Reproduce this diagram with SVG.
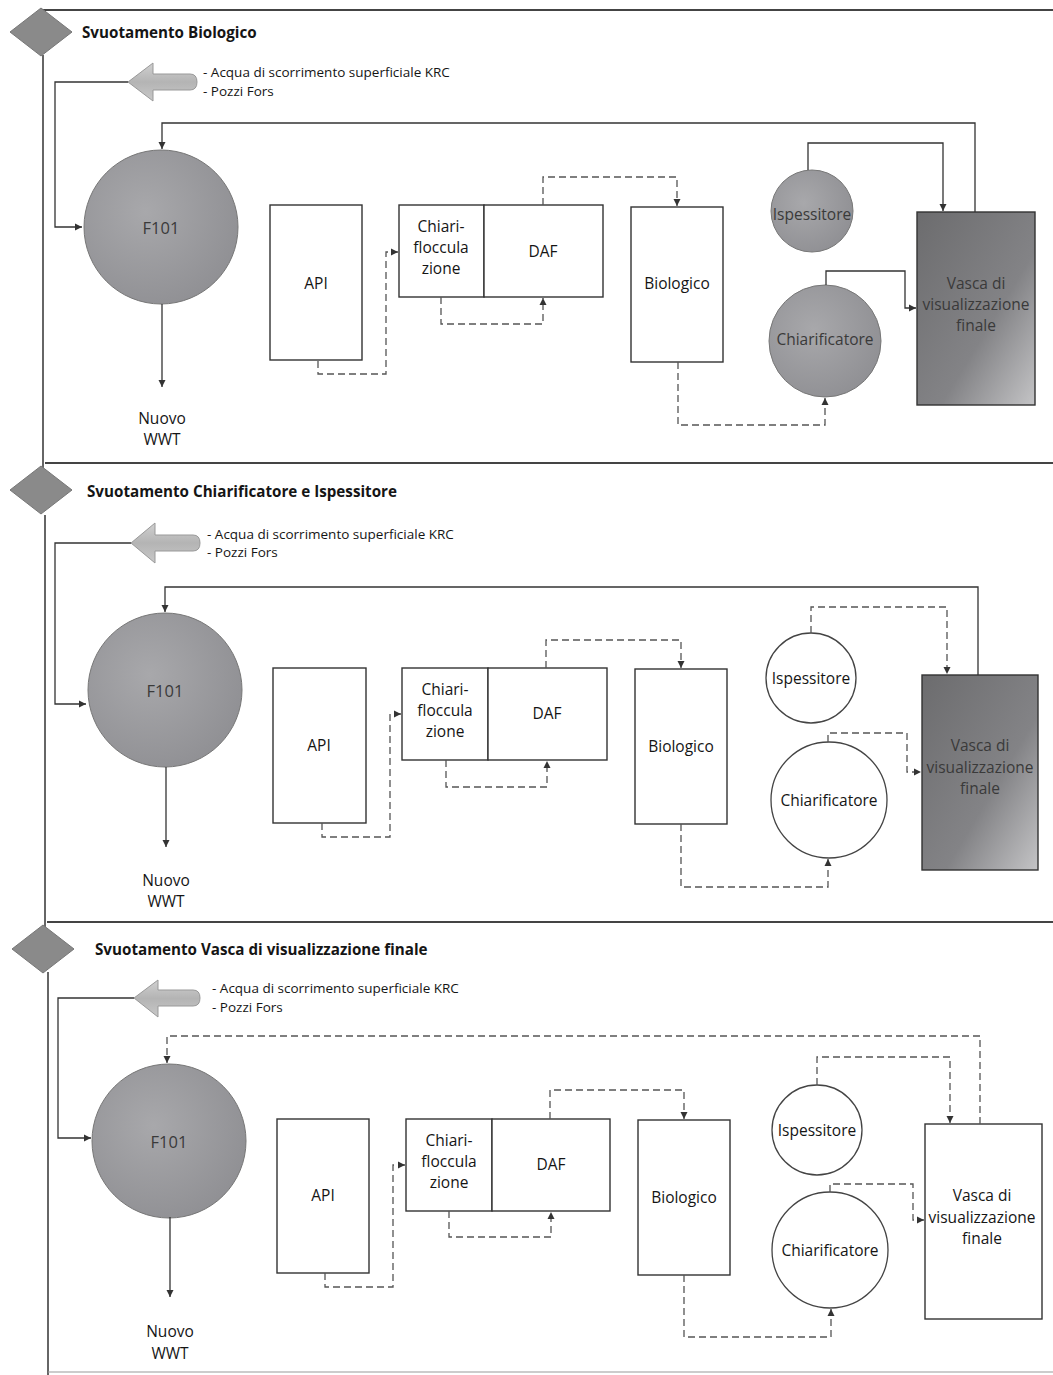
<svg xmlns="http://www.w3.org/2000/svg" width="1053" height="1375" viewBox="0 0 1053 1375">
<defs>
<style>
.t{font-family:"Open Sans","Noto Sans",sans-serif;fill:#151515;text-anchor:middle;dominant-baseline:central;font-size:15.5px}
.f{font-size:16.5px}
.ti{font-family:"Open Sans","Noto Sans",sans-serif;fill:#151515;font-size:15.2px;font-weight:700}
.s{font-family:"Open Sans","Noto Sans",sans-serif;fill:#151515;font-size:13.5px}
.tg{fill:#3a3a3a}
.box{fill:#fff;stroke:#333;stroke-width:1.4}
.wc{fill:#fff;stroke:#444;stroke-width:1.3}
.gc{fill:url(#gcirc);stroke:#777;stroke-width:1}
.dark{fill:url(#gdark);stroke:#333;stroke-width:1.4}
.dia{fill:#8a8a8a;stroke:#777;stroke-width:1}
.frame{fill:none;stroke:#333;stroke-width:1.5}
.sep{fill:none;stroke:#444;stroke-width:2}
.sl{fill:none;stroke:#333;stroke-width:1.3;marker-end:url(#ah)}
.dl{fill:none;stroke:#555;stroke-width:1.3;stroke-dasharray:7 4;marker-end:url(#ah)}
.bar{fill:url(#garrow);stroke:#999;stroke-width:1}
</style>
<marker id="ah" markerWidth="8" markerHeight="8" refX="7" refY="4" orient="auto" markerUnits="userSpaceOnUse">
<path d="M0,0.5 L7,4 L0,7.5 Z" fill="#333"/>
</marker>
<radialGradient id="gcirc" cx="0.4" cy="0.4" r="0.7">
<stop offset="0" stop-color="#a8a8ab"/>
<stop offset="1" stop-color="#8e8e92"/>
</radialGradient>
<linearGradient id="gdark" x1="0" y1="0" x2="1" y2="1">
<stop offset="0" stop-color="#6c6c6e"/>
<stop offset="0.6" stop-color="#838386"/>
<stop offset="1" stop-color="#c4c4c6"/>
</linearGradient>
<linearGradient id="garrow" x1="0" y1="0" x2="0" y2="1">
<stop offset="0" stop-color="#d0d0d0"/>
<stop offset="0.5" stop-color="#b4b4b4"/>
<stop offset="1" stop-color="#c8c8c8"/>
</linearGradient>
</defs>

<g id="frame">
<path class="sep" d="M42,10 H1053"/>
<path class="frame" d="M43,55 V470"/>
<path class="sep" d="M45,463 H1053"/>
<path class="frame" d="M45,515 V928"/>
<path class="sep" d="M47,922 H1053"/>
<path class="frame" d="M48,972 V1375"/>
<path d="M48,1372 H1053" stroke="#999" stroke-width="1" fill="none"/>
</g>

<!-- ===== Panel 1 ===== -->
<g id="p1-step"><path class="dia" d="M41,8 L72,32 L41,56 L10,32 Z"/></g>
<text class="ti" x="82" y="38">Svuotamento Biologico</text>
<g id="p1-input">
<path class="bar" d="M128,82 L153,63 L153,74 L190,74 Q197,74 197,82 Q197,90 190,90 L153,90 L153,101 Z"/>
<text class="s" x="203" y="77">- Acqua di scorrimento superficiale KRC</text>
<text class="s" x="203" y="96">- Pozzi Fors</text>
</g>
<g id="p1-f101"><circle class="gc" cx="161" cy="227" r="77"/><text class="t f tg" x="161" y="227">F101</text></g>
<g id="p1-nuovo"><text class="t" x="162" y="418">Nuovo</text><text class="t" x="162" y="439">WWT</text></g>
<g id="p1-api"><rect class="box" x="270" y="205" width="92" height="155"/><text class="t" x="316" y="283">API</text></g>
<g id="p1-chiari"><rect class="box" x="399" y="205" width="85" height="92"/><text class="t" x="441" y="226">Chiari-</text><text class="t" x="441" y="247">floccula</text><text class="t" x="441" y="268">zione</text></g>
<g id="p1-daf"><rect class="box" x="484" y="205" width="119" height="92"/><text class="t" x="543" y="251">DAF</text></g>
<g id="p1-bio"><rect class="box" x="631" y="207" width="92" height="155"/><text class="t" x="677" y="283">Biologico</text></g>
<g id="p1-isp"><circle class="gc" cx="812" cy="211" r="41"/><text class="t tg" x="812" y="214">Ispessitore</text></g>
<g id="p1-chiarif"><circle class="gc" cx="825" cy="341" r="56"/><text class="t tg" x="825" y="339">Chiarificatore</text></g>
<g id="p1-vasca"><rect class="dark" x="917" y="212" width="118" height="193"/><text class="t tg" x="976" y="283">Vasca di</text><text class="t tg" x="976" y="304">visualizzazione</text><text class="t tg" x="976" y="325">finale</text></g>
<g id="p1-connectors">
<path class="sl" d="M128,82 H55 V227 H82"/>
<path class="sl" d="M162,304 V387"/>
<path class="sl" d="M975,212 V123 H162 V149"/>
<path class="dl" d="M318,361 V374 H386 V252 H398"/>
<path class="dl" d="M441,297 V324 H543 V298"/>
<path class="dl" d="M543,205 V177 H677 V206"/>
<path class="dl" d="M678,362 V425 H825 V398"/>
<path class="sl" d="M808,170 V143 H943 V211"/>
<path class="sl" d="M826,285 V271 H905 V308 H916"/>
</g>

<!-- ===== Panel 2 ===== -->
<g id="p2-step"><path class="dia" d="M41,466 L72,490 L41,514 L10,490 Z"/></g>
<text class="ti" x="87" y="497">Svuotamento Chiarificatore e Ispessitore</text>
<g id="p2-input">
<path class="bar" d="M131,543 L155,523 L155,535 L193,535 Q200,535 200,543 Q200,551 193,551 L155,551 L155,563 Z"/>
<text class="s" x="207" y="539">- Acqua di scorrimento superficiale KRC</text>
<text class="s" x="207" y="557">- Pozzi Fors</text>
</g>
<g id="p2-f101"><circle class="gc" cx="165" cy="690" r="77"/><text class="t f tg" x="165" y="690">F101</text></g>
<g id="p2-nuovo"><text class="t" x="166" y="880">Nuovo</text><text class="t" x="166" y="901">WWT</text></g>
<g id="p2-api"><rect class="box" x="273" y="668" width="93" height="155"/><text class="t" x="319" y="745">API</text></g>
<g id="p2-chiari"><rect class="box" x="402" y="668" width="86" height="92"/><text class="t" x="445" y="689">Chiari-</text><text class="t" x="445" y="710">floccula</text><text class="t" x="445" y="731">zione</text></g>
<g id="p2-daf"><rect class="box" x="488" y="668" width="119" height="92"/><text class="t" x="547" y="713">DAF</text></g>
<g id="p2-bio"><rect class="box" x="635" y="669" width="92" height="155"/><text class="t" x="681" y="746">Biologico</text></g>
<g id="p2-isp"><circle class="wc" cx="811" cy="678" r="45"/><text class="t" x="811" y="678">Ispessitore</text></g>
<g id="p2-chiarif"><circle class="wc" cx="829" cy="800" r="58"/><text class="t" x="829" y="800">Chiarificatore</text></g>
<g id="p2-vasca"><rect class="dark" x="922" y="675" width="116" height="195"/><text class="t tg" x="980" y="745">Vasca di</text><text class="t tg" x="980" y="767">visualizzazione</text><text class="t tg" x="980" y="788">finale</text></g>
<g id="p2-connectors">
<path class="sl" d="M131,543 H55 V704 H86"/>
<path class="sl" d="M166,767 V847"/>
<path class="sl" d="M978,675 V587 H165 V612"/>
<path class="dl" d="M322,823 V837 H390 V714 H401"/>
<path class="dl" d="M446,760 V787 H547 V761"/>
<path class="dl" d="M546,668 V640 H681 V668"/>
<path class="dl" d="M681,824 V887 H828 V859"/>
<path class="dl" d="M811,633 V607 H947 V674"/>
<path class="dl" d="M828,742 V733 H907 V772 H921"/>
</g>

<!-- ===== Panel 3 ===== -->
<g id="p3-step"><path class="dia" d="M43,925 L74,949 L43,973 L12,949 Z"/></g>
<text class="ti" x="95" y="955">Svuotamento Vasca di visualizzazione finale</text>
<g id="p3-input">
<path class="bar" d="M134,998 L158,980 L158,990 L193,990 Q200,990 200,998 Q200,1006 193,1006 L158,1006 L158,1017 Z"/>
<text class="s" x="212" y="993">- Acqua di scorrimento superficiale KRC</text>
<text class="s" x="212" y="1012">- Pozzi Fors</text>
</g>
<g id="p3-f101"><circle class="gc" cx="169" cy="1141" r="77"/><text class="t f tg" x="169" y="1141">F101</text></g>
<g id="p3-nuovo"><text class="t" x="170" y="1331">Nuovo</text><text class="t" x="170" y="1353">WWT</text></g>
<g id="p3-api"><rect class="box" x="277" y="1119" width="92" height="154"/><text class="t" x="323" y="1195">API</text></g>
<g id="p3-chiari"><rect class="box" x="406" y="1119" width="86" height="92"/><text class="t" x="449" y="1140">Chiari-</text><text class="t" x="449" y="1161">floccula</text><text class="t" x="449" y="1182">zione</text></g>
<g id="p3-daf"><rect class="box" x="492" y="1119" width="118" height="92"/><text class="t" x="551" y="1164">DAF</text></g>
<g id="p3-bio"><rect class="box" x="638" y="1120" width="92" height="155"/><text class="t" x="684" y="1197">Biologico</text></g>
<g id="p3-isp"><circle class="wc" cx="817" cy="1130" r="45"/><text class="t" x="817" y="1130">Ispessitore</text></g>
<g id="p3-chiarif"><circle class="wc" cx="830" cy="1250" r="58"/><text class="t" x="830" y="1250">Chiarificatore</text></g>
<g id="p3-vasca"><rect class="box" x="925" y="1124" width="117" height="195"/><text class="t" x="982" y="1195">Vasca di</text><text class="t" x="982" y="1217">visualizzazione</text><text class="t" x="982" y="1238">finale</text></g>
<g id="p3-connectors">
<path class="sl" d="M134,998 H58 V1138 H91"/>
<path class="sl" d="M170,1217 V1297"/>
<path class="dl" d="M980,1124 V1036 H167 V1063"/>
<path class="dl" d="M325,1273 V1287 H393 V1165 H405"/>
<path class="dl" d="M449,1211 V1237 H551 V1212"/>
<path class="dl" d="M550,1119 V1090 H684 V1119"/>
<path class="dl" d="M684,1275 V1337 H831 V1309"/>
<path class="dl" d="M817,1085 V1057 H950 V1123"/>
<path class="dl" d="M830,1192 V1184 H913 V1220 H924"/>
</g>
</svg>
